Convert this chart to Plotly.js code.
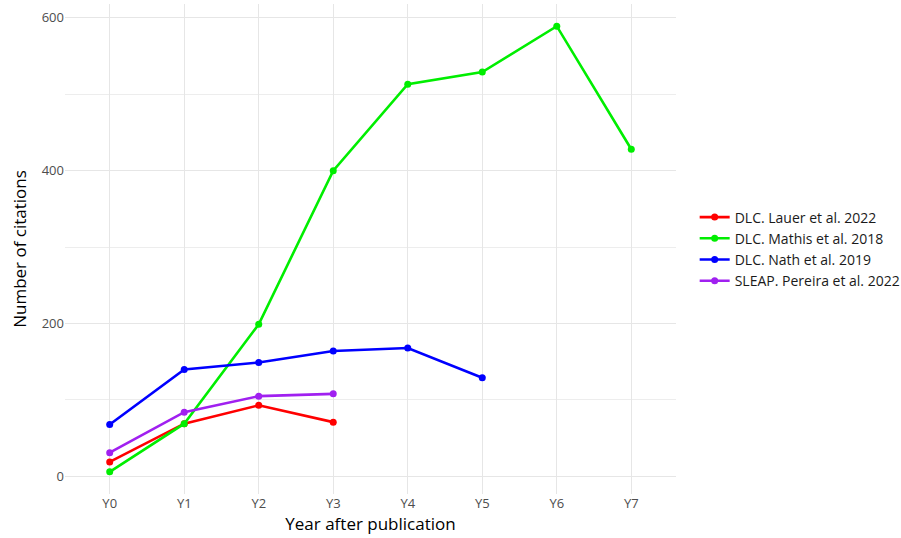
<!DOCTYPE html>
<html><head><meta charset="utf-8">
<script src="https://cdn.plot.ly/plotly-3.0.1.min.js"></script>
<style>html,body{margin:0;padding:0;background:#fff}#chart{width:901px;height:538px}</style>
</head><body><div id="chart"></div>
<script>
const years = ["Y0","Y1","Y2","Y3","Y4","Y5","Y6","Y7"];
const seriesNames = ["DLC. Lauer et al. 2022","DLC. Mathis et al. 2018","DLC. Nath et al. 2019","SLEAP. Pereira et al. 2022"];
const lauer = [19, 69, 93, 71];
const mathis = [6, 69, 199, 400, 513, 529, 589, 428];
const nath = [68, 140, 149, 164, 168, 129];
const pereira = [31, 84, 105, 108];
const colors = ["#FF0000","#00EE00","#0000FF","#A020F0"];
const allValues = [lauer, mathis, nath, pereira];

const traces = allValues.map((vals, i) => ({
  x: years.slice(0, vals.length),
  y: vals,
  name: seriesNames[i],
  type: "scatter",
  mode: "lines+markers",
  line: {color: colors[i], width: 2.6},
  marker: {color: colors[i], size: 7}
}));

const layout = {
  width: 901, height: 538,
  margin: {l: 65, r: 225, t: 4, b: 44, autoexpand: false},
  paper_bgcolor: "#fff", plot_bgcolor: "#fff",
  font: {family: "Open Sans, Noto Sans, sans-serif", color: "#4D4D4D", size: 13},
  showlegend: true,
  legend: {xref: "container", x: 0.771, xanchor: "left", y: 0.5, yanchor: "middle",
           font: {size: 14, color: "#1A1A1A"}, tracegroupgap: 0, itemwidth: 30},
  xaxis: {
    type: "category", categoryorder: "array", categoryarray: years,
    range: [-0.6, 7.6], showgrid: true, gridcolor: "#E6E6E6", gridwidth: 1.4,
    zeroline: false, showline: false, ticks: "", tickfont: {size: 13, color: "#4D4D4D"},
    title: {text: "Year after publication", font: {size: 17, color: "#000"}, standoff: 6}
  },
  yaxis: {
    range: [-23, 618], tick0: 0, dtick: 200, showgrid: true, gridcolor: "#E6E6E6", gridwidth: 1.4,
    minor: {dtick: 100, showgrid: true, gridcolor: "#EDEDED", gridwidth: 1},
    zeroline: false, showline: false, ticks: "", tickfont: {size: 13, color: "#4D4D4D"},
    title: {text: "Number of citations", font: {size: 17, color: "#000"}, standoff: 10}
  }
};
Plotly.newPlot("chart", traces, layout, {displayModeBar: false, staticPlot: true});
</script></body></html>
